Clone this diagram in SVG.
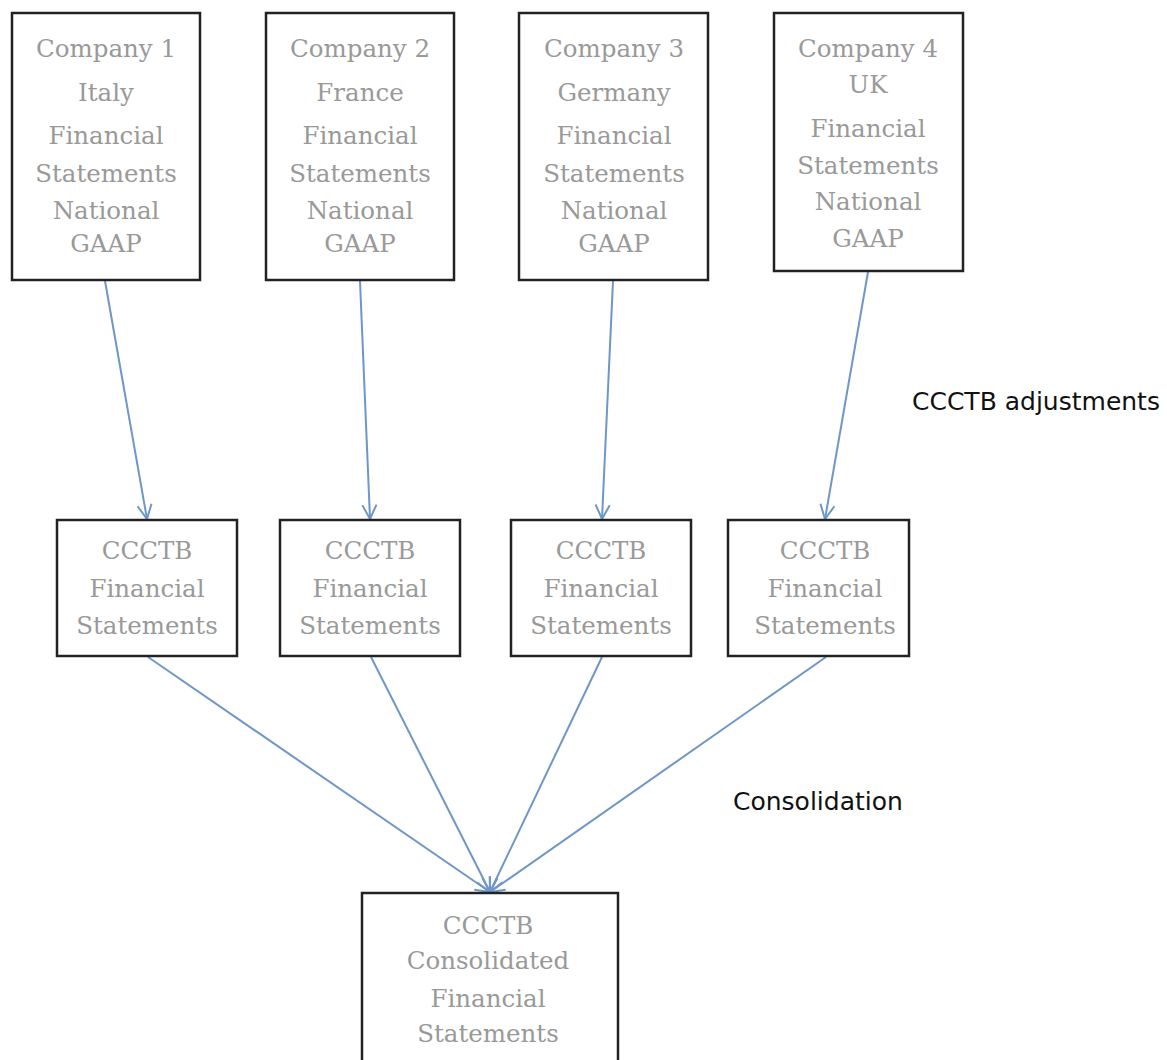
<svg xmlns="http://www.w3.org/2000/svg" width="1167" height="1060" viewBox="0 0 1167 1060">
<style>
.box{fill:#fff;stroke:#222;stroke-width:2.5}
.t{font-family:"DejaVu Serif","Liberation Serif",serif;font-size:24.5px;fill:#999;text-anchor:middle}
.lbl{font-family:"DejaVu Sans","Liberation Sans",sans-serif;font-size:25px;fill:#111}
.c{stroke:#6f96c8;stroke-width:2;fill:none;marker-end:url(#ah)}
</style>
<defs>
<marker id="ah" viewBox="0 0 12 12" refX="11" refY="6" markerWidth="17" markerHeight="17" markerUnits="userSpaceOnUse" orient="auto">
<path d="M1,1 L11,6 L1,11" fill="none" stroke="#6f96c8" stroke-width="1.4"/>
</marker>
</defs>
<rect width="1167" height="1060" fill="#fff"/>
<g id="connectors">
<line class="c" x1="105" y1="281" x2="147" y2="519"/>
<line class="c" x1="360" y1="281" x2="370" y2="519"/>
<line class="c" x1="613" y1="281" x2="602" y2="519"/>
<line class="c" x1="868" y1="272" x2="825" y2="519"/>
<line class="c" x1="148" y1="657" x2="490" y2="892"/>
<line class="c" x1="371" y1="657" x2="490" y2="892"/>
<line class="c" x1="602" y1="657" x2="490" y2="892"/>
<line class="c" x1="826" y1="657" x2="490" y2="892"/>
</g>
<g id="n1">
<rect class="box" x="12" y="13" width="188" height="267"/>
<text class="t"><tspan x="106" y="57">Company 1</tspan><tspan x="106" y="101">Italy</tspan><tspan x="106" y="144">Financial</tspan><tspan x="106" y="182">Statements</tspan><tspan x="106" y="219">National</tspan><tspan x="106" y="252">GAAP</tspan></text>
</g>
<g id="n2">
<rect class="box" x="266" y="13" width="188" height="267"/>
<text class="t"><tspan x="360" y="57">Company 2</tspan><tspan x="360" y="101">France</tspan><tspan x="360" y="144">Financial</tspan><tspan x="360" y="182">Statements</tspan><tspan x="360" y="219">National</tspan><tspan x="360" y="252">GAAP</tspan></text>
</g>
<g id="n3">
<rect class="box" x="519" y="13" width="189" height="267"/>
<text class="t"><tspan x="614" y="57">Company 3</tspan><tspan x="614" y="101">Germany</tspan><tspan x="614" y="144">Financial</tspan><tspan x="614" y="182">Statements</tspan><tspan x="614" y="219">National</tspan><tspan x="614" y="252">GAAP</tspan></text>
</g>
<g id="n4">
<rect class="box" x="774" y="13" width="189" height="258"/>
<text class="t"><tspan x="868" y="57">Company 4</tspan><tspan x="868" y="93">UK</tspan><tspan x="868" y="137">Financial</tspan><tspan x="868" y="174">Statements</tspan><tspan x="868" y="210">National</tspan><tspan x="868" y="247">GAAP</tspan></text>
</g>
<g id="m1">
<rect class="box" x="57" y="520" width="180" height="136"/>
<text class="t"><tspan x="147" y="559">CCCTB</tspan><tspan x="147" y="597">Financial</tspan><tspan x="147" y="634">Statements</tspan></text>
</g>
<g id="m2">
<rect class="box" x="280" y="520" width="180" height="136"/>
<text class="t"><tspan x="370" y="559">CCCTB</tspan><tspan x="370" y="597">Financial</tspan><tspan x="370" y="634">Statements</tspan></text>
</g>
<g id="m3">
<rect class="box" x="511" y="520" width="180" height="136"/>
<text class="t"><tspan x="601" y="559">CCCTB</tspan><tspan x="601" y="597">Financial</tspan><tspan x="601" y="634">Statements</tspan></text>
</g>
<g id="m4">
<rect class="box" x="728" y="520" width="181" height="136"/>
<text class="t"><tspan x="825" y="559">CCCTB</tspan><tspan x="825" y="597">Financial</tspan><tspan x="825" y="634">Statements</tspan></text>
</g>
<g id="b1">
<rect class="box" x="362" y="893" width="256" height="180"/>
<text class="t"><tspan x="488" y="934">CCCTB</tspan><tspan x="488" y="969">Consolidated</tspan><tspan x="488" y="1007">Financial</tspan><tspan x="488" y="1042">Statements</tspan></text>
</g>
<g id="labels">
<text class="lbl" x="912" y="410">CCCTB adjustments</text>
<text class="lbl" x="733" y="810">Consolidation</text>
</g>
</svg>
